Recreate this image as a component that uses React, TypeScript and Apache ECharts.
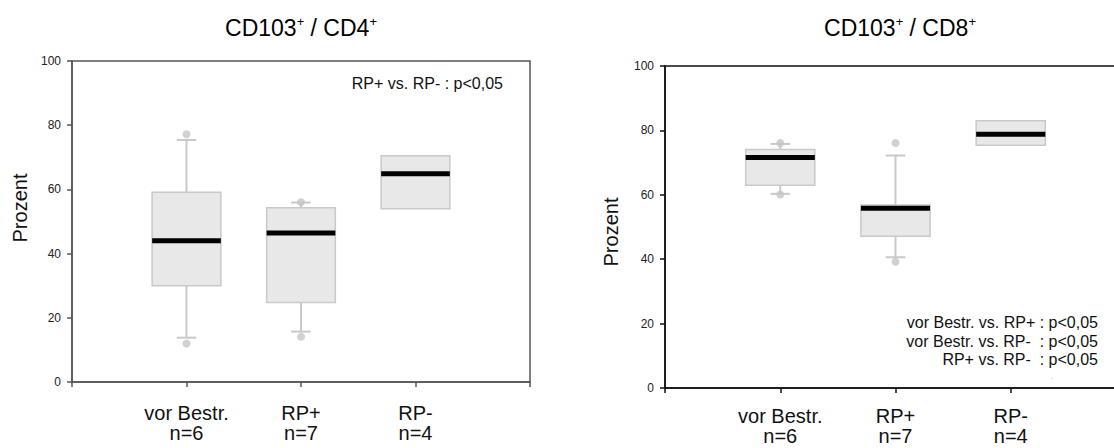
import React, { useEffect, useRef } from "react";
import * as echarts from "echarts";

// Groups on the x axis (positions 1..3 of a 0..4 value axis)
const categories = ["vor Bestr.", "RP+", "RP-"];
const groupSizes = ["n=6", "n=7", "n=4"];
const yTicks = [0, 20, 40, 60, 80, 100];

// CD103+ / CD4+ box statistics (percent)
const cd4WhiskerLow = [13.8, 15.7, 54];
const cd4Q1 = [30, 24.8, 54];
const cd4Median = [44, 46.4, 64.9];
const cd4Q3 = [59.1, 54.3, 70.5];
const cd4WhiskerHigh = [75.4, 55.9, 70.5];
const cd4Outliers = [
  [1, 77.2],
  [1, 12],
  [2, 56],
  [2, 14.1],
];

// CD103+ / CD8+ box statistics (percent)
const cd8WhiskerLow = [60.3, 40.6, 75.4];
const cd8Q1 = [63, 47.1, 75.4];
const cd8Median = [71.6, 55.8, 78.8];
const cd8Q3 = [74.1, 56.8, 83];
const cd8WhiskerHigh = [75.8, 72.2, 83];
const cd8Outliers = [
  [1, 76.1],
  [1, 60.1],
  [2, 76.1],
  [2, 39.2],
];

const cd4Note = "RP+ vs. RP- : p<0,05";
const cd8Note = [
  "vor Bestr. vs. RP+ : p<0,05",
  "vor Bestr. vs. RP-  : p<0,05",
  "RP+ vs. RP-  : p<0,05",
];

const FONT = "'Liberation Sans', Arial, Helvetica, sans-serif";

function boxRows(lo: number[], q1: number[], med: number[], q3: number[], hi: number[]) {
  return categories.map((_, i) => [i + 1, lo[i], q1[i], med[i], q3[i], hi[i]]);
}

const renderBox = (params: any, api: any) => {
  const x = api.value(0);
  const lo = api.value(1);
  const q1 = api.value(2);
  const med = api.value(3);
  const q3 = api.value(4);
  const hi = api.value(5);
  const [cx, yLo] = api.coord([x, lo]);
  const yQ1 = api.coord([x, q1])[1];
  const yMed = api.coord([x, med])[1];
  const yQ3 = api.coord([x, q3])[1];
  const yHi = api.coord([x, hi])[1];
  const bw = api.size([0.6, 0])[0];
  const cw = api.size([0.17, 0])[0];
  const whisker = { stroke: "#c9c9c9", lineWidth: 2 };
  const children: any[] = [];
  if (hi > q3) {
    children.push({ type: "line", shape: { x1: cx, y1: yQ3, x2: cx, y2: yHi }, style: whisker });
    children.push({ type: "line", shape: { x1: cx - cw / 2, y1: yHi, x2: cx + cw / 2, y2: yHi }, style: whisker });
  }
  if (lo < q1) {
    children.push({ type: "line", shape: { x1: cx, y1: yQ1, x2: cx, y2: yLo }, style: whisker });
    children.push({ type: "line", shape: { x1: cx - cw / 2, y1: yLo, x2: cx + cw / 2, y2: yLo }, style: whisker });
  }
  children.push({
    type: "rect",
    shape: { x: cx - bw / 2, y: yQ3, width: bw, height: yQ1 - yQ3 },
    style: { fill: "#e8e8e8", stroke: "#c9c9c9", lineWidth: 1.5 },
  });
  children.push({
    type: "line",
    shape: { x1: cx - bw / 2, y1: yMed, x2: cx + bw / 2, y2: yMed },
    style: { stroke: "#000", lineWidth: 5, lineCap: "butt" },
  });
  return { type: "group", children };
};

function xAxisFor(gridIndex: number, color: string, margin: number) {
  return {
    gridIndex,
    type: "value",
    min: 0,
    max: 4,
    interval: 1,
    axisLine: { show: true, lineStyle: { color, width: 1.5 } },
    axisTick: { show: true, inside: false, length: 5, lineStyle: { color, width: 1.5 } },
    splitLine: { show: false },
    axisLabel: {
      show: true,
      hideOverlap: false,
      showMinLabel: true,
      showMaxLabel: true,
      margin,
      fontSize: 20,
      lineHeight: 20,
      fontFamily: FONT,
      color: "#111",
      formatter: (v: number) =>
        v >= 1 && v <= categories.length ? `${categories[v - 1]}\n${groupSizes[v - 1]}` : "",
    },
  };
}

function yAxisFor(gridIndex: number, color: string) {
  return {
    gridIndex,
    type: "value",
    min: yTicks[0],
    max: yTicks[yTicks.length - 1],
    interval: yTicks[1] - yTicks[0],
    axisLine: { show: true, lineStyle: { color, width: 1.5 } },
    axisTick: { show: true, inside: false, length: 5, lineStyle: { color, width: 1.5 } },
    splitLine: { show: false },
    axisLabel: { show: true, margin: 11, fontSize: 12, fontFamily: FONT, color: "#222" },
  };
}

const titleRich = {
  b: { fontSize: 23, lineHeight: 27, fontFamily: FONT, color: "#111" },
  s: { fontSize: 13, lineHeight: 14, fontFamily: FONT, color: "#111", verticalAlign: "top" },
};

export default function App() {
  const ref = useRef<HTMLDivElement>(null);

  useEffect(() => {
    if (!ref.current) return;
    const chart = echarts.init(ref.current, undefined, { renderer: "svg" });
    chart.setOption({
      animation: false,
      backgroundColor: "#fff",
      grid: [
        { left: 72, top: 61, width: 458, height: 321, show: true, borderColor: "#555", borderWidth: 1.5, outerBoundsMode: "none" },
        { left: 665, top: 66, width: 461, height: 322, show: true, borderColor: "#111", borderWidth: 1.5, outerBoundsMode: "none" },
      ],
      xAxis: [xAxisFor(0, "#555", 21), xAxisFor(1, "#111", 18)],
      yAxis: [yAxisFor(0, "#555"), yAxisFor(1, "#111")],
      series: [
        {
          type: "custom",
          xAxisIndex: 0,
          yAxisIndex: 0,
          renderItem: renderBox,
          encode: { x: 0, y: [1, 2, 3, 4, 5] },
          data: boxRows(cd4WhiskerLow, cd4Q1, cd4Median, cd4Q3, cd4WhiskerHigh),
          z: 2,
        },
        {
          type: "scatter",
          xAxisIndex: 0,
          yAxisIndex: 0,
          symbolSize: 8,
          itemStyle: { color: "#c6c6c6" },
          data: cd4Outliers,
          z: 3,
        },
        {
          type: "custom",
          xAxisIndex: 1,
          yAxisIndex: 1,
          renderItem: renderBox,
          encode: { x: 0, y: [1, 2, 3, 4, 5] },
          data: boxRows(cd8WhiskerLow, cd8Q1, cd8Median, cd8Q3, cd8WhiskerHigh),
          z: 2,
        },
        {
          type: "scatter",
          xAxisIndex: 1,
          yAxisIndex: 1,
          symbolSize: 8,
          itemStyle: { color: "#c6c6c6" },
          data: cd8Outliers,
          z: 3,
        },
      ],
      graphic: [
        {
          type: "text",
          x: 301,
          y: 28,
          style: { text: "{b|CD103}{s|+}{b| / CD4}{s|+}", rich: titleRich, align: "center", verticalAlign: "middle" },
        },
        {
          type: "text",
          x: 900,
          y: 28,
          style: { text: "{b|CD103}{s|+}{b| / CD8}{s|+}", rich: titleRich, align: "center", verticalAlign: "middle" },
        },
        {
          type: "text",
          x: 20,
          y: 208,
          rotation: Math.PI / 2,
          style: { text: "Prozent", fontSize: 20, fontFamily: FONT, fill: "#111", align: "center", verticalAlign: "middle" },
        },
        {
          type: "text",
          x: 611,
          y: 232,
          rotation: Math.PI / 2,
          style: { text: "Prozent", fontSize: 20, fontFamily: FONT, fill: "#111", align: "center", verticalAlign: "middle" },
        },
        {
          type: "text",
          x: 503,
          y: 83,
          style: { text: cd4Note, fontSize: 16, fontFamily: FONT, fill: "#111", align: "right", verticalAlign: "middle" },
        },
        {
          type: "text",
          x: 1098,
          y: 341,
          style: {
            text: cd8Note.join("\n"),
            fontSize: 16,
            lineHeight: 18.5,
            fontFamily: FONT,
            fill: "#111",
            align: "right",
            verticalAlign: "middle",
          },
        },
        {
          type: "text",
          x: 1052,
          y: 376,
          style: { text: ".", fontSize: 8, fontFamily: FONT, fill: "#999", align: "center", verticalAlign: "middle" },
        },
      ],
    });
    return () => chart.dispose();
  }, []);

  return (
    <div
      ref={ref}
      style={{ position: "fixed", left: 0, top: 0, width: 1114, height: 448, background: "#fff" }}
    />
  );
}
